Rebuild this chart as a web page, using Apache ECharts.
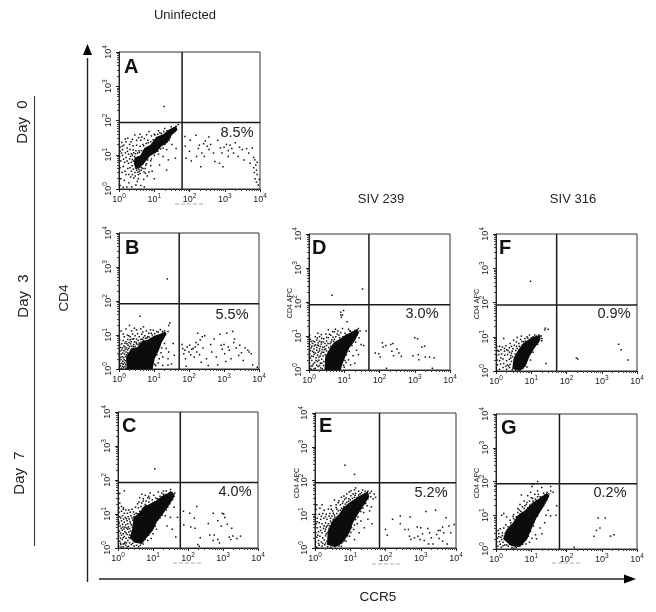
<!DOCTYPE html>
<html><head><meta charset="utf-8">
<style>html,body{margin:0;padding:0;background:#fff}#c{width:656px;height:612px}</style>
<script src="https://cdn.jsdelivr.net/npm/echarts@6/dist/echarts.min.js"></script>
</head><body><div id="c"></div>
<script>
// All event coordinates are log10 fluorescence: [CCR5, CD4]
const panelNames=['A','B','C','D','E','F','G'];
const percentLabels=['8.5%','5.5%','4.0%','3.0%','5.2%','0.9%','0.2%'];
const gateX=[1.79,1.72,1.78,1.70,1.83,1.72,1.80];
const gateY=[1.94,1.92,1.93,1.92,1.93,1.93,1.93];
const tickExponents=[0,1,2,3,4];

const coreA=[[[.42,.72],[.44,.92],[.6,.98],[.72,1.2],[.9,1.3],[1.05,1.52],[1.25,1.6],[1.42,1.74],[1.62,1.84],[1.66,1.72],[1.5,1.58],[1.38,1.36],[1.2,1.24],[1.05,1.06],[.88,.96],[.74,.78],[.6,.62],[.48,.58]]];
const coreB=[[[.22,0],[.2,.35],[.36,.62],[.52,.64],[.66,.82],[.82,.86],[1.0,.98],[1.18,1.04],[1.32,1.1],[1.36,1.02],[1.22,.78],[1.14,.55],[1.02,.3],[.96,0]]];
const coreC=[[[.34,.3],[.42,.62],[.44,.9],[.62,1.05],[.74,1.22],[.95,1.3],[1.12,1.42],[1.3,1.56],[1.55,1.66],[1.62,1.52],[1.45,1.24],[1.3,1.02],[1.12,.78],[1.0,.52],[.82,.3],[.68,.12],[.46,.16]]];
const coreD=[[[.44,0],[.46,.4],[.58,.62],[.7,.8],[.88,.92],[1.02,1.02],[1.2,1.12],[1.38,1.2],[1.42,1.1],[1.3,.86],[1.14,.64],[1.02,.36],[.94,.15],[.9,0]]];
const coreE=[[[.34,.1],[.36,.5],[.5,.82],[.68,1.0],[.8,1.2],[1.02,1.38],[1.22,1.52],[1.5,1.68],[1.54,1.52],[1.4,1.28],[1.25,1.05],[1.08,.75],[.98,.45],[.78,.14],[.58,.02]]];
const coreF=[[[.46,.06],[.5,.38],[.62,.6],[.74,.78],[.92,.92],[1.06,1.0],[1.26,1.05],[1.26,.9],[1.1,.68],[.95,.42],[.84,.14],[.68,0]]];
const coreG=[[[.2,.3],[.3,.58],[.48,.78],[.62,1.0],[.82,1.14],[1.0,1.34],[1.22,1.5],[1.44,1.66],[1.52,1.58],[1.34,1.24],[1.16,.94],[1.02,.62],[.88,.28],[.68,.06],[.44,.08]]];

const dotsA=[[.03,.1],[.12,.05],[.22,.06],[.05,.3],[.15,.25],[.28,.18],[.36,.06],[.48,.12],[.62,.1],[.72,.06],[.09,.48],[.2,.42],[.33,.35],[.42,.32],[.55,.3],[.7,.28],[.03,.62],[.12,.66],[.25,.6],[.35,.52],[.45,.48],[.6,.45],[.75,.46],[.85,.5],[.05,.82],[.16,.78],[.27,.75],[.37,.68],[.47,.62],[.56,.58],[.64,.62],[.74,.6],[.02,.95],[.1,.98],[.2,.92],[.3,.88],[.41,.82],[.52,.72],[.6,.7],[.68,.74],[.78,.74],[.9,.82],[.03,1.1],[.1,1.15],[.18,1.06],[.27,1.02],[.35,1.03],[.44,.95],[.03,1.22],[.14,1.28],[.23,1.2],[.31,1.15],[.4,1.14],[.48,1.12],[.57,1.12],[.08,1.36],[.2,1.38],[.3,1.3],[.4,1.26],[.5,1.28],[.6,1.25],[.68,1.3],[.25,1.48],[.38,1.45],[.5,1.42],[.62,1.42],[.72,1.47],[.82,1.42],[.45,1.58],[.6,1.6],[.78,1.58],[.92,1.55],[1.0,1.6],[.85,1.68],[1.12,1.7],[1.3,1.77],[1.48,1.82],[1.55,1.78],[1.62,1.83],[1.2,1.62],[1.1,1.1],[1.25,1.2],[1.35,1.15],[1.5,1.3],[1.62,1.18],[1.25,.95],[1.4,.85],[1.15,.7],[1.6,.9],[1.0,.3],[.9,.68],[1.35,.55],[1.28,2.41],
[1.87,1.53],[1.88,1.25],[1.9,.9],[2.0,1.1],[2.02,1.42],[2.05,.82],[2.18,1.57],[2.2,.95],[2.25,1.18],[2.28,1.28],[2.32,.65],[2.35,1.05],[2.4,1.32],[2.45,1.4],[2.5,1.25],[2.42,.95],[2.55,1.15],[2.6,1.3],[2.68,1.05],[2.55,1.52],[2.72,.8],[2.8,1.42],[2.88,1.2],[2.92,1.05],[2.98,1.22],[3.05,1.3],[3.1,.95],[3.1,1.12],[3.15,1.28],[3.2,1.18],[3.25,1.05],[2.85,.75],[2.95,.65],[3.3,1.35],[3.38,.95],[3.42,1.22],[3.5,1.15],[3.55,.85],[3.62,1.18],[3.68,1.05],[3.72,.75],[3.78,1.2],[3.82,.92],[3.85,.85],[3.88,.7],[3.82,.62],[3.9,.55],[3.84,.48],[3.92,.42],[3.86,.3],[3.9,.2],[3.95,.12],[3.98,.28],[3.92,.78]];
const fringeA=[[.5,.55],[.54,.49],[.58,.52],[.63,.55],[.68,.6],[.38,.86],[.35,.78],[.33,.95],[.38,.99],[.42,1.06],[.47,1.03],[.53,1.05],[.58,1.07],[.64,1.12],[.7,1.26],[.77,1.33],[.83,1.35],[.9,1.38],[.97,1.44],[1.02,1.58],[1.1,1.6],[1.16,1.64],[1.27,1.68],[1.36,1.7],[1.68,1.88],[1.58,1.68],[1.45,1.5],[1.42,1.42],[1.3,1.3],[1.18,1.17],[1.12,1.02],[1.0,.98],[.92,.88],[.82,.85],[.76,.7],[.13,.87],[.24,1.1],[.07,1.05],[.17,.52],[.28,.42],[.38,.42],[.46,.38],[.52,.22],[.31,.62],[.41,.58],[.23,.82],[.09,1.25],[.18,1.46],[.34,1.38],[.56,1.5],[.65,1.52],[.71,.5],[.8,.38],[.94,.52],[.55,.42]];

const dotsB=[[.02,.72],[.1,.62],[.02,.85],[.14,.68],[.2,.8],[.26,.7],[.33,.74],[.38,.88],[.42,.72],[.5,.74],[.55,.84],[.6,.7],[.66,.88],[.7,.93],[.76,.9],[.15,.95],[.24,1.0],[.32,.95],[.46,.98],[.58,.95],[.65,1.02],[.74,.98],[.82,.95],[.92,1.05],[.06,1.12],[.2,1.18],[.36,1.12],[.5,1.15],[.62,1.18],[.78,1.12],[.9,1.15],[1.08,1.1],[1.18,1.16],[1.3,1.12],[1.4,1.1],[1.45,1.35],[1.42,1.28],[.6,1.55],[1.25,.9],[1.3,.75],[1.22,.62],[1.2,.48],[1.25,.35],[1.35,.6],[1.42,.5],[1.15,.3],[1.12,.18],[1.05,.1],[.98,.2],[1.4,.3],[1.5,.15],[1.25,.1],[1.55,.75],[1.58,.4],[1.4,.12],[1.38,2.65],
[1.8,.72],[1.82,.6],[1.85,.45],[1.88,.55],[1.9,.3],[1.92,.08],[1.95,.65],[2.0,.5],[2.02,.7],[2.05,.42],[2.08,.58],[2.12,.6],[2.15,.35],[2.18,.65],[2.2,.78],[2.22,.5],[2.25,1.05],[2.26,.72],[2.3,.42],[2.32,.85],[2.35,.2],[2.38,.95],[2.4,.62],[2.45,.98],[2.5,.3],[2.55,.1],[2.62,.72],[2.65,.5],[2.72,.88],[2.78,.35],[2.82,.12],[2.88,1.02],[2.92,.7],[2.95,.58],[3.0,.72],[3.02,.45],[3.05,.22],[3.08,1.05],[3.12,.65],[3.15,.55],[3.2,.3],[3.25,1.1],[3.28,.78],[3.3,.88],[3.35,.62],[3.42,.4],[3.45,.7],[3.5,.48],[3.55,.25],[3.6,.62],[3.68,.55],[3.72,.5],[3.78,.45],[3.82,.12],[3.95,.05]];
const fringeB=[[.01,.03],[.04,.09],[.07,.02],[.1,.08],[.13,.04],[.17,.07],[.2,.02],[.03,.15],[.08,.17],[.12,.14],[.16,.18],[.19,.13],[.02,.24],[.06,.28],[.11,.23],[.15,.27],[.19,.24],[.04,.34],[.09,.36],[.13,.33],[.18,.37],[.22,.42],[.01,.42],[.06,.44],[.11,.47],[.16,.44],[.2,.5],[.25,.47],[.03,.53],[.08,.56],[.14,.54],[.18,.58],[.24,.56],[.28,.6],[.33,.55],[.05,.63],[.17,.65],[.22,.62],[.3,.66],[.36,.67],[.41,.66],[.46,.66],[.08,.74],[.17,.76],[.23,.74],[.29,.78],[.35,.8],[.44,.8],[.49,.79],[.54,.72],[.58,.76],[.63,.78],[.12,.84],[.25,.87],[.32,.86],[.42,.89],[.5,.88],[.62,.87],[.7,.85],[.8,.91],[.86,.94],[.95,1.0],[1.02,1.04],[1.12,1.08],[1.24,1.1],[1.28,.98],[1.19,.86],[1.16,.68],[1.08,.42],[1.02,.14],[.28,.98],[.39,1.03],[.53,1.04],[.68,1.09],[.85,1.05],[.12,1.03],[.44,1.2],[.7,1.24],[.98,1.14],[.3,1.28]];

const dotsC=[[.02,.05],[.08,.1],[.15,.04],[.22,.08],[.3,.05],[.38,.1],[.46,.06],[.05,.2],[.12,.25],[.2,.18],[.28,.22],[.35,.28],[.02,.35],[.1,.38],[.18,.34],[.26,.4],[.33,.38],[.4,.3],[.04,.5],[.12,.52],[.2,.48],[.28,.55],[.36,.5],[.44,.55],[.06,.65],[.14,.62],[.22,.68],[.3,.62],[.38,.68],[.46,.72],[.02,.78],[.1,.8],[.18,.76],[.26,.8],[.34,.78],[.42,.82],[.5,.85],[.05,.92],[.13,.95],[.21,.9],[.29,.92],[.37,.95],[.45,.92],[.55,.95],[.03,1.05],[.1,1.08],[.18,1.02],[.27,1.02],[.35,1.05],[.44,1.06],[.52,1.02],[.62,1.08],[.03,1.18],[.1,1.22],[.05,1.32],[.15,1.14],[.22,1.12],[.02,1.45],[.05,1.6],[.18,1.68],[.58,1.18],[.66,1.22],[.72,1.15],[.6,1.35],[.68,1.32],[.78,1.28],[.85,1.22],[.62,1.48],[.72,1.45],[.8,1.38],[.88,1.35],[.95,1.3],[.78,1.55],[.88,1.52],[.98,1.42],[1.05,1.35],[.85,1.48],[1.02,1.55],[1.12,1.45],[1.2,1.52],[1.3,1.58],[1.42,1.55],[1.5,1.65],[1.52,1.48],[1.6,1.52],[1.62,1.62],[1.3,1.68],[1.5,1.72],[1.15,1.65],[1.6,1.2],[1.42,1.2],[1.35,.95],[1.5,.9],[1.2,.88],[1.4,.65],[1.55,.55],[1.1,.55],[1.0,.42],[.95,.28],[.72,.12],[.85,.22],[1.65,.32],[1.7,.9],[1.05,2.32],
[1.87,1.08],[1.88,.68],[2.05,1.02],[2.08,.62],[2.18,.88],[2.2,.58],[2.25,1.22],[2.35,.3],[2.32,.05],[2.28,.1],[2.58,.72],[2.72,1.02],[2.85,.8],[2.75,.38],[2.72,.22],[2.85,.25],[2.62,.38],[2.9,.15],[3.05,.9],[2.98,1.02],[3.12,.7],[3.02,1.0],[2.95,.65],[3.18,.32],[3.25,.58],[3.28,.35],[3.22,.25],[3.4,.28],[3.5,.35]];
const fringeC=[[.09,.03],[.19,.13],[.26,.03],[.33,.15],[.42,.14],[.53,.08],[.59,.04],[.07,.14],[.15,.12],[.24,.15],[.31,.31],[.07,.29],[.15,.3],[.23,.29],[.37,.37],[.44,.42],[.49,.36],[.07,.44],[.15,.42],[.23,.44],[.31,.47],[.4,.45],[.09,.58],[.17,.56],[.25,.59],[.33,.57],[.41,.61],[.04,.73],[.13,.7],[.2,.61],[.28,.71],[.36,.73],[.43,.66],[.08,.88],[.16,.85],[.24,.86],[.32,.85],[.4,.88],[.47,.99],[.57,1.01],[.66,1.06],[.7,1.16],[.76,1.22],[.8,1.25],[.9,1.27],[1.0,1.34],[1.08,1.36],[1.17,1.44],[1.25,1.5],[1.36,1.57],[1.46,1.62],[1.6,1.58],[1.56,1.42],[1.48,1.3],[1.38,1.12],[1.26,.96],[1.14,.84],[1.06,.64],[.98,.56],[.88,.38],[.78,.26],[.64,.08],[.16,1.18],[.31,1.12],[.4,1.14],[.5,1.2],[.56,1.3],[.72,1.38],[.9,1.46],[1.08,1.47],[1.25,1.62],[1.38,1.68],[.68,1.58],[.92,1.62]];

const dotsD=[[.03,.05],[.1,.12],[.18,.05],[.26,.1],[.33,.06],[.02,.2],[.08,.28],[.16,.22],[.24,.25],[.32,.2],[.04,.35],[.12,.4],[.2,.36],[.28,.38],[.36,.32],[.02,.48],[.1,.55],[.18,.5],[.26,.52],[.34,.48],[.06,.65],[.14,.62],[.22,.66],[.3,.62],[.38,.6],[.42,.52],[.02,.75],[.1,.78],[.18,.74],[.27,.72],[.35,.76],[.44,.68],[.5,.72],[.04,.9],[.12,.85],[.22,.88],[.3,.85],[.4,.82],[.5,.85],[.6,.78],[.02,1.02],[.18,.98],[.3,.98],[.42,.92],[.55,.95],[.65,.88],[.72,.9],[.25,1.08],[.48,1.06],[.62,1.02],[.76,.98],[.85,1.02],[.55,1.18],[.72,1.12],[.9,1.1],[1.02,1.08],[1.15,1.15],[.75,1.2],[.95,1.22],[1.12,1.2],[1.25,1.12],[1.35,1.18],[1.45,1.15],[1.62,1.15],[1.42,.95],[1.55,.72],[1.48,.75],[1.32,.82],[1.22,.72],[1.35,.58],[1.4,.45],[1.25,.42],[1.12,.3],[1.05,.22],[1.0,.08],[1.18,.15],[1.3,.2],[.95,1.62],[.9,1.7],[.98,1.75],[.92,1.55],[1.08,1.42],[.65,2.2],[1.52,2.38],[.9,1.62],
[1.98,.48],[1.88,.5],[2.02,.38],[2.08,.8],[2.1,.68],[2.18,.72],[2.32,.75],[2.38,.78],[2.4,.42],[2.35,.55],[2.5,.62],[2.55,.5],[2.62,.4],[2.95,.42],[3.0,.95],[3.08,.92],[3.1,.45],[3.12,.3],[3.2,.68],[3.28,.7],[3.3,.38],[3.42,.38],[3.55,.35],[3.5,.05],[2.2,.05]];
const fringeD=[[.06,.02],[.14,.03],[.22,.14],[.3,.13],[.38,.04],[.41,.13],[.12,.18],[.2,.28],[.28,.29],[.36,.2],[.42,.25],[.06,.12],[.07,.41],[.15,.46],[.24,.44],[.32,.41],[.4,.41],[.46,.45],[.04,.57],[.13,.52],[.22,.58],[.3,.56],[.37,.52],[.44,.6],[.5,.56],[.08,.7],[.15,.71],[.24,.73],[.32,.69],[.39,.67],[.47,.62],[.56,.66],[.62,.7],[.06,.84],[.16,.83],[.26,.8],[.35,.82],[.45,.78],[.54,.78],[.63,.82],[.7,.84],[.78,.84],[.87,.95],[.96,.98],[1.06,1.04],[1.18,1.14],[1.3,1.16],[1.4,1.22],[1.36,1.02],[1.26,.92],[1.18,.75],[1.14,.55],[1.06,.45],[1.02,.28],[.98,.14],[.24,.94],[.36,.93],[.5,.96],[.58,1.05],[.68,.96],[.8,1.06],[.35,1.04],[.67,1.13],[.82,1.15]];

const dotsE=[[.05,.02],[.12,.08],[.2,.05],[.28,.1],[.36,.04],[.02,.18],[.1,.22],[.18,.18],[.26,.24],[.34,.2],[.05,.32],[.14,.35],[.22,.3],[.3,.36],[.38,.3],[.02,.45],[.1,.48],[.2,.45],[.28,.5],[.36,.45],[.06,.6],[.15,.62],[.24,.58],[.32,.62],[.4,.58],[.03,.72],[.12,.75],[.2,.72],[.3,.74],[.38,.72],[.46,.75],[.06,.88],[.16,.85],[.25,.88],[.34,.85],[.44,.88],[.52,.85],[.02,1.0],[.12,1.0],[.22,1.02],[.32,1.0],[.42,1.02],[.55,.98],[.62,1.02],[.03,1.14],[.14,1.18],[.26,1.12],[.38,1.15],[.5,1.1],[.62,1.15],[.72,1.12],[.05,1.28],[.2,1.28],[.45,1.25],[.6,1.28],[.72,1.28],[.82,1.22],[.55,1.42],[.68,1.4],[.8,1.38],[.9,1.35],[.98,1.32],[.75,1.5],[.88,1.48],[1.0,1.42],[1.08,1.38],[.9,1.6],[1.02,1.55],[1.12,1.5],[1.2,1.5],[1.02,1.7],[1.15,1.62],[1.28,1.6],[1.12,1.72],[1.35,1.72],[1.45,1.58],[1.5,1.68],[1.58,1.52],[1.65,1.45],[1.6,1.68],[1.72,1.5],[1.15,1.78],[1.12,2.18],[1.48,1.25],[1.55,1.1],[1.38,1.05],[1.5,.85],[1.62,.72],[1.3,.8],[1.2,.72],[1.1,.55],[.98,.35],[.88,.2],[1.25,.45],[1.12,.25],[.75,.05],[1.4,.6],[1.6,1.22],[.85,2.45],
[2.0,.55],[2.05,.38],[2.2,.85],[2.42,.95],[2.42,.72],[2.55,.55],[2.7,.92],[2.65,.55],[2.68,.35],[2.72,.25],[2.82,.3],[2.9,.62],[2.92,.35],[2.98,.25],[3.0,.6],[3.05,.42],[3.1,.22],[3.15,1.08],[3.2,.58],[3.22,.12],[3.25,.45],[3.3,.3],[3.35,.12],[3.42,1.12],[3.45,.4],[3.5,.52],[3.52,.28],[3.55,.52],[3.62,.2],[3.65,.45],[3.72,.9],[3.75,.12],[3.8,.65],[3.95,.7],[3.62,.62],[3.85,.45]];
const fringeE=[[.3,.15],[.32,.42],[.3,.56],[.35,.66],[.41,.66],[.44,.8],[.48,.95],[.56,.92],[.66,1.1],[.76,1.18],[.78,1.32],[.86,1.3],[.95,1.38],[1.06,1.47],[1.14,1.56],[1.24,1.57],[1.32,1.64],[1.42,1.68],[1.56,1.62],[1.5,1.45],[1.44,1.32],[1.36,1.18],[1.3,1.08],[1.22,.92],[1.15,.84],[1.12,.68],[1.04,.6],[1.02,.46],[.92,.36],[.84,.22],[.68,.06],[.45,.02],[.1,.13],[.22,.13],[.08,.38],[.16,.52],[.06,.78],[.26,.66],[.18,.94],[.3,.93],[.4,.94],[.52,1.03],[.46,1.15],[.6,1.2],[.66,1.34],[.84,1.44],[.96,1.46],[.82,1.54],[1.08,1.6],[1.24,1.68],[1.42,1.6],[1.68,1.6],[.97,1.66]];

const dotsF=[[.02,.02],[.1,.05],[.2,.1],[.3,.05],[.38,.1],[.46,.03],[.04,.18],[.13,.2],[.22,.22],[.32,.18],[.4,.2],[.03,.32],[.1,.3],[.2,.35],[.3,.3],[.38,.34],[.44,.28],[.02,.45],[.08,.48],[.16,.5],[.25,.46],[.33,.48],[.42,.45],[.05,.6],[.14,.62],[.24,.58],[.3,.62],[.38,.55],[.46,.58],[.02,.72],[.1,.72],[.18,.7],[.28,.74],[.38,.68],[.48,.65],[.56,.6],[.22,.95],[.4,.8],[.52,.75],[.58,.85],[.65,.8],[.7,.92],[.78,.85],[.6,.98],[.82,.95],[.88,1.0],[.95,1.05],[.72,1.02],[1.05,1.0],[1.15,1.02],[1.22,1.05],[1.28,1.02],[1.3,.95],[1.38,1.2],[1.4,1.25],[1.48,1.22],[1.3,.88],[1.18,.78],[1.05,.55],[.98,.32],[1.42,.22],[.88,.12],[.98,2.62],
[2.32,.35],[2.28,.38],[3.48,.78],[3.55,.62],[3.75,.32]];
const fringeF=[[.36,.15],[.42,.38],[.47,.42],[.44,.52],[.54,.5],[.6,.66],[.66,.72],[.74,.86],[.83,.87],[.9,.96],[1.0,.96],[1.1,1.05],[1.2,1.0],[1.14,.86],[1.02,.72],[.98,.58],[.9,.42],[.84,.24],[.76,.07],[.56,.02],[.28,.14],[.14,.38],[.08,.58],[.34,.6],[.24,.66],[.5,.9],[.44,.72],[.58,.72]];

const dotsG=[[.05,.08],[.15,.05],[.25,.12],[.35,.08],[.45,.04],[.55,.06],[.02,.2],[.1,.22],[.2,.2],[.3,.25],[.04,.32],[.14,.35],[.24,.38],[.08,.45],[.18,.48],[.28,.5],[.35,.48],[.06,.55],[.12,.6],[.22,.62],[.34,.66],[.42,.7],[.28,.72],[.16,1.0],[.22,1.05],[.3,.95],[.4,.85],[.5,.9],[.58,.95],[.5,1.02],[.62,1.08],[.7,1.12],[.62,1.2],[.75,1.25],[.82,1.28],[.68,1.32],[.88,1.38],[.95,1.42],[.8,1.42],[1.05,1.42],[1.12,1.48],[1.0,1.52],[1.18,1.55],[1.25,1.55],[1.1,1.62],[.98,1.68],[1.18,1.72],[.72,1.6],[1.35,1.65],[1.45,1.68],[1.55,1.72],[1.62,1.68],[1.3,1.82],[1.55,1.85],[1.02,1.85],[1.35,1.28],[1.48,1.15],[1.42,1.0],[1.55,.98],[1.38,.78],[1.25,.62],[1.12,.42],[1.02,.32],[.95,.2],[.85,.15],[1.15,.3],[1.3,.45],[1.72,1.28],[1.7,1.0],[1.05,1.92],[1.18,2.0],[.9,1.58],
[2.22,.05],[2.78,.38],[2.85,.55],[2.9,.92],[2.95,.62],[3.1,.92],[3.25,.38],[3.35,.42]];
const fringeG=[[.12,.14],[.2,.1],[.3,.12],[.38,.14],[.5,.02],[.16,.28],[.08,.36],[.18,.4],[.26,.46],[.33,.54],[.4,.62],[.46,.72],[.42,.78],[.54,.86],[.58,.94],[.68,1.04],[.74,1.08],[.8,1.2],[.9,1.22],[.96,1.3],[1.06,1.38],[1.14,1.44],[1.28,1.54],[1.38,1.6],[1.5,1.64],[1.44,1.46],[1.38,1.36],[1.28,1.2],[1.22,1.1],[1.18,.98],[1.08,.8],[1.06,.68],[.98,.52],[.92,.38],[.76,.14],[.58,.04],[.48,.96],[.66,1.16],[.86,1.32],[1.04,1.5],[1.2,1.62]];

const panelDots=[dotsA.concat(fringeA),dotsB.concat(fringeB),dotsC.concat(fringeC),dotsD.concat(fringeD),dotsE.concat(fringeE),dotsF.concat(fringeF),dotsG.concat(fringeG)];
const panelCores=[coreA,coreB,coreC,coreD,coreE,coreF,coreG];

// Layout only
const boxes=[[119,52,141,137],[119,233,140,136],[118,412,140,136],[309,234,141,136],[315,413,141,135],[496,234,141,137],[496,414,141,135]];
const letterPos=[[132,67],[133,248],[130,426],[320,248],[327,426],[507,248],[509,428]];
const pctPos=[[237,133],[232,315],[235,492],[422,314],[431,493],[614,314],[610,493]];

const tickFmt=v=>{const e=Math.round(Math.log10(v));return '{b|10}{s|'+e+'}';};
const tickRich={b:{fontSize:9,fontFamily:'Liberation Sans',color:'#222'},s:{fontSize:6.5,fontFamily:'Liberation Sans',color:'#222',padding:[0,0,6,0]}};
const pow=p=>[Math.pow(10,p[0]),Math.pow(10,p[1])];

const grid=[],xAxis=[],yAxis=[],series=[],graphic=[];
panelNames.forEach((nm,i)=>{
  const b=boxes[i];
  grid.push({left:b[0],top:b[1],width:b[2],height:b[3],show:true,borderColor:'#333',borderWidth:1,backgroundColor:'#fff'});
  const ax={gridIndex:i,type:'log',logBase:10,min:1,max:Math.pow(10,tickExponents[tickExponents.length-1]),splitLine:{show:false},
    axisLine:{show:true,onZero:false,lineStyle:{color:'#222',width:1}},
    axisTick:{show:true,length:3,lineStyle:{color:'#222'}},
    minorTick:{show:true,splitNumber:9,length:2,lineStyle:{color:'#444'}}};
  xAxis.push({...ax,position:'bottom',axisLabel:{formatter:tickFmt,rich:tickRich,margin:4,showMinLabel:true,showMaxLabel:true,hideOverlap:false}});
  yAxis.push({...ax,position:'left',axisLabel:{formatter:tickFmt,rich:tickRich,rotate:90,margin:4,showMinLabel:true,showMaxLabel:true,hideOverlap:false}});
  panelCores[i].forEach(core=>{
    series.push({type:'custom',xAxisIndex:i,yAxisIndex:i,coordinateSystem:'cartesian2d',silent:true,z:2,clip:true,
      data:core.map(pow),
      renderItem:(params,api)=>params.dataIndex!==0?null:{type:'polygon',shape:{points:core.map(p=>api.coord(pow(p)))},style:{fill:'#0c0c0c'}}});
  });
  series.push({type:'scatter',xAxisIndex:i,yAxisIndex:i,symbol:'rect',symbolSize:1.5,silent:true,z:3,large:false,
    itemStyle:{color:'#111',opacity:1},data:panelDots[i].map(pow)});
  const gx=Math.pow(10,gateX[i]),gy=Math.pow(10,gateY[i]);
  const gl={type:'line',xAxisIndex:i,yAxisIndex:i,symbol:'none',silent:true,z:4,lineStyle:{color:'#1a1a1a',width:1.5},animation:false};
  series.push({...gl,data:[[gx,1],[gx,10000]]});
  series.push({...gl,data:[[1,gy],[10000,gy]]});
  graphic.push({type:'text',left:letterPos[i][0]-8,top:letterPos[i][1]-10,style:{text:nm,font:'bold 20px "Liberation Sans"',fill:'#111'},z:10});
  graphic.push({type:'text',x:pctPos[i][0],y:pctPos[i][1],style:{text:percentLabels[i],font:'14.5px "Liberation Sans"',fill:'#222',textAlign:'center',textVerticalAlign:'middle'},z:10});
});

const txt=(t,x,y,size,rot)=>({type:'text',x,y,rotation:rot?Math.PI/2:0,style:{text:t,font:size+'px "Liberation Sans"',fill:'#222',textAlign:'center',textVerticalAlign:'middle'},z:10});
graphic.push(txt('Uninfected',185,15,13));
graphic.push(txt('SIV 239',381,199,13));
graphic.push(txt('SIV 316',573,199,13));
graphic.push(txt('Day  0',23,122,15,true));
graphic.push(txt('Day  3',24,296,15,true));
graphic.push(txt('Day  7',20,473,15,true));
graphic.push(txt('CD4',64,298,13.5,true));
graphic.push(txt('CCR5',378,597,13.5));
[[290,303],[297,483],[477,304],[477,483]].forEach(p=>graphic.push(txt('CD4 APC',p[0],p[1],7,true)));

const ln=(x1,y1,x2,y2,w,c,dash)=>({type:'line',shape:{x1,y1,x2,y2},style:{stroke:c||'#222',lineWidth:w||1,lineDash:dash},z:9});
graphic.push(ln(34.5,96,34.5,546,1.2,'#444'));
graphic.push(ln(87.5,58,87.5,582,1.4,'#222'));
graphic.push({type:'polygon',shape:{points:[[83,55],[92,55],[87.5,44]]},style:{fill:'#000'},z:9});
graphic.push(ln(99,579,625,579,1.4,'#222'));
graphic.push({type:'polygon',shape:{points:[[624,574.5],[624,583.5],[636,579]]},style:{fill:'#000'},z:9});
[[175,203,204],[173,203,563],[372,400,564],[552,582,563]].forEach(d=>graphic.push(ln(d[0],d[2],d[1],d[2],1,'#aaa',[4,2])));

const chart=echarts.init(document.getElementById('c'),null,{renderer:'canvas'});
chart.setOption({animation:false,backgroundColor:'#fff',grid,xAxis,yAxis,series,graphic});
</script></body></html>
